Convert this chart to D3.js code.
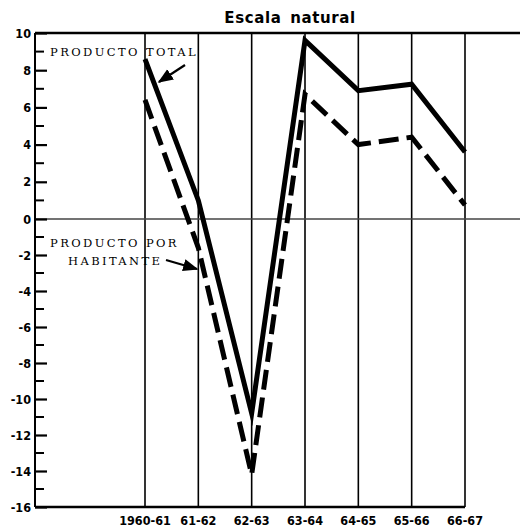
<!DOCTYPE html>
<html>
<head>
<meta charset="utf-8">
<script src="https://cdn.jsdelivr.net/npm/d3@7"></script>
<style>
  html, body { margin: 0; padding: 0; background: #fff; }
  svg { display: block; }
  .lbl { font-family: "DejaVu Sans Condensed", "DejaVu Sans", sans-serif; font-weight: bold; fill: #000; }
  .note { font-family: "DejaVu Serif", "Liberation Serif", serif; fill: #000; letter-spacing: 2.4px; }
</style>
</head>
<body>
<svg id="chart"></svg>
<script>
var categories = ["1960-61", "61-62", "62-63", "63-64", "64-65", "65-66", "66-67"];
var productoTotal = [8.6, 1.0, -10.8, 9.6, 6.9, 7.25, 3.6];
var productoHabitante = [6.4, -1.6, -14.2, 6.7, 4.0, 4.4, 0.75];
var yLabels = d3.range(-16, 11, 2);
var yMinor = d3.range(-15, 10, 2);

var width = 526, height = 527;
var plotL = 35, plotR = 520, plotT = 33, plotB = 507;

var svg = d3.select("#chart").attr("width", width).attr("height", height);

var x = d3.scalePoint().domain(categories).range([145, 465]);
// the scan is slightly stretched above zero
var y = d3.scaleLinear().domain([-16, 0, 10]).range([plotB, 219, plotT]);

// vertical lines for each year
svg.append("g").selectAll("line")
  .data(categories)
  .enter().append("line")
  .attr("x1", d => x(d)).attr("x2", d => x(d))
  .attr("y1", plotT).attr("y2", plotB)
  .attr("stroke", "#000").attr("stroke-width", 1.6);

// zero line
svg.append("line")
  .attr("x1", plotL).attr("x2", plotR)
  .attr("y1", y(0)).attr("y2", y(0))
  .attr("stroke", "#444").attr("stroke-width", 1.3);

// frame: top, left, bottom
svg.append("line").attr("x1", plotL).attr("x2", plotR).attr("y1", plotT).attr("y2", plotT)
  .attr("stroke", "#000").attr("stroke-width", 2.5);
svg.append("line").attr("x1", plotL).attr("x2", plotL).attr("y1", plotT).attr("y2", plotB)
  .attr("stroke", "#000").attr("stroke-width", 2);
svg.append("line").attr("x1", plotL).attr("x2", x(categories[categories.length - 1])).attr("y1", plotB).attr("y2", plotB)
  .attr("stroke", "#000").attr("stroke-width", 2.5);

// y axis ticks
var yAxis = d3.axisRight(y).tickValues(yLabels).tickSize(12).tickFormat("");
var ga = svg.append("g").attr("transform", `translate(${plotL},0)`).call(yAxis);
ga.select(".domain").remove();
ga.selectAll("line").attr("stroke-width", 2.2);
svg.append("g").selectAll("line")
  .data(yMinor)
  .enter().append("line")
  .attr("x1", plotL).attr("x2", plotL + 9)
  .attr("y1", d => y(d)).attr("y2", d => y(d))
  .attr("stroke", "#000").attr("stroke-width", 2);

svg.append("g").selectAll("text")
  .data(yLabels)
  .enter().append("text")
  .attr("class", "lbl")
  .attr("x", plotL - 4).attr("y", d => y(d) + 4.5)
  .attr("text-anchor", "end")
  .attr("font-size", 12.5)
  .text(d => d);

// x labels
svg.append("g").selectAll("text")
  .data(categories)
  .enter().append("text")
  .attr("class", "lbl")
  .attr("x", d => x(d)).attr("y", 525)
  .attr("text-anchor", "middle")
  .attr("font-size", 12.5)
  .text(d => d);

// title
svg.append("text")
  .attr("x", 290).attr("y", 23)
  .attr("text-anchor", "middle")
  .attr("font-family", "DejaVu Sans, sans-serif")
  .attr("font-weight", "bold")
  .attr("font-size", 15)
  .attr("letter-spacing", 0.6)
  .attr("word-spacing", 3)
  .text("Escala natural");

var line = d3.line().x((d, i) => x(categories[i])).y(d => y(d));

svg.append("path")
  .datum(productoHabitante)
  .attr("d", line)
  .attr("fill", "none").attr("stroke", "#000")
  .attr("stroke-width", 5)
  .attr("stroke-dasharray", "20,8")
  .attr("stroke-linejoin", "miter").attr("stroke-miterlimit", 12);

svg.append("path")
  .datum(productoTotal)
  .attr("d", line)
  .attr("fill", "none").attr("stroke", "#000")
  .attr("stroke-width", 5)
  .attr("stroke-linejoin", "miter").attr("stroke-miterlimit", 12);

// annotations
svg.append("defs").append("marker")
  .attr("id", "arr").attr("viewBox", "0 0 10 10")
  .attr("refX", 9).attr("refY", 5)
  .attr("markerWidth", 7).attr("markerHeight", 7)
  .attr("orient", "auto")
  .append("path").attr("d", "M0,1 L10,5 L0,9 Z").attr("fill", "#000");

svg.append("text").attr("class", "note")
  .attr("x", 50).attr("y", 56).attr("font-size", 11.5)
  .text("PRODUCTO TOTAL");
svg.append("line")
  .attr("x1", 185).attr("y1", 65).attr("x2", 159).attr("y2", 82)
  .attr("stroke", "#000").attr("stroke-width", 2.2)
  .attr("marker-end", "url(#arr)");

svg.append("text").attr("class", "note")
  .attr("x", 50).attr("y", 247).attr("font-size", 11.5)
  .text("PRODUCTO POR");
svg.append("text").attr("class", "note")
  .attr("x", 68).attr("y", 265).attr("font-size", 11.5)
  .text("HABITANTE");
svg.append("line")
  .attr("x1", 166).attr("y1", 260).attr("x2", 197).attr("y2", 269)
  .attr("stroke", "#000").attr("stroke-width", 2.2)
  .attr("marker-end", "url(#arr)");
</script>
</body>
</html>
